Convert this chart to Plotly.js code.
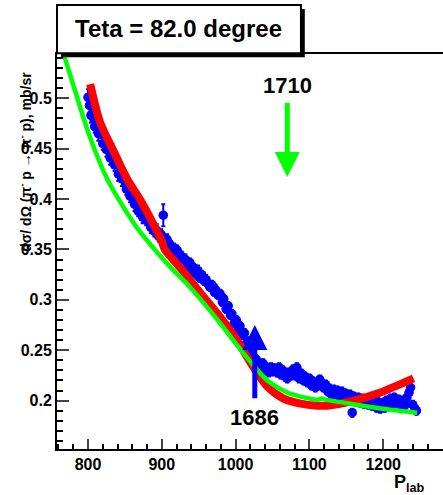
<!DOCTYPE html>
<html>
<head>
<meta charset="utf-8">
<script src="https://cdn.plot.ly/plotly-3.0.1.min.js"></script>
<style>html,body{margin:0;padding:0;background:#fff;}#chart{width:443px;height:495px;}</style>
</head>
<body>
<div id="chart"></div>
<script>
// ---- data ----
const plab = [800,802,804,807,809,812,814,817,820,822,825,828,830,833,836,838,841,844,846,849,
852,855,857,860,863,866,868,871,874,877,879,882,885,888,890,893,896,899,902,905,
907,910,913,916,918,921,924,927,929,932,935,938,940,943,946,949,951,954,957,960,
962,965,968,971,973,976,979,982,984,987,990,993,995,998,1001,1004,1006,1009,1012,1015,
1017,1020,1023,1026,1028,1031,1034,1037,1039,1042,1045,1048,1050,1053,1056,1059,1061,1064,1067,1070,
1072,1075,1078,1081,1083,1086,1089,1092,1094,1097,1100,1103,1105,1108,1111,1114,1116,1119,1122,1125,
1127,1130,1133,1136,1138,1141,1144,1147,1149,1152,1155,1158,1160,1163,1166,1169,1171,1174,1177,1180,
1182,1185,1188,1191,1193,1196,1199,1202,1204,1207,1210,1213,1215,1218,1221,1224,1226,1229,1232,1235,
1237,1240,1243,1245];
const dsig = [0.501,0.493,0.483,0.481,0.472,0.474,0.465,0.469,0.455,0.463,0.449,0.455,0.441,0.447,0.434,0.437,0.425,0.427,0.420,0.421,
0.410,0.410,0.403,0.402,0.395,0.394,0.388,0.390,0.382,0.383,0.380,0.377,0.372,0.374,0.368,0.369,0.363,0.365,0.384,0.356,
0.360,0.356,0.351,0.352,0.346,0.349,0.341,0.343,0.338,0.340,0.333,0.337,0.329,0.332,0.326,0.329,0.322,0.325,0.319,0.320,
0.316,0.313,0.315,0.308,0.310,0.305,0.306,0.298,0.301,0.291,0.294,0.285,0.286,0.277,0.280,0.271,0.274,0.265,0.267,0.257,
0.259,0.249,0.251,0.242,0.241,0.236,0.234,0.237,0.231,0.233,0.228,0.233,0.229,0.232,0.228,0.233,0.226,0.230,0.224,0.222,
0.228,0.225,0.231,0.225,0.233,0.222,0.227,0.220,0.224,0.218,0.222,0.215,0.219,0.213,0.215,0.221,0.218,0.213,0.216,0.209,
0.212,0.206,0.211,0.206,0.210,0.204,0.209,0.203,0.207,0.202,0.206,0.188,0.204,0.199,0.203,0.198,0.202,0.197,0.201,0.196,
0.200,0.195,0.199,0.193,0.199,0.192,0.197,0.193,0.200,0.196,0.202,0.197,0.203,0.196,0.201,0.195,0.200,0.195,0.203,0.208,
0.213,0.196,0.192,0.190];
const dsigErr = [0.008,0.007,0.007,0.008,0.006,0.007,0.007,0.008,0.006,0.007,0.007,0.006,0.007,0.008,0.006,0.006,0.007,0.006,0.007,0.006,
0.006,0.007,0.006,0.006,0.007,0.006,0.005,0.006,0.006,0.005,0.006,0.005,0.006,0.005,0.005,0.006,0.005,0.005,0.011,0.005,
0.005,0.005,0.005,0.004,0.005,0.005,0.004,0.005,0.004,0.005,0.004,0.004,0.005,0.004,0.004,0.005,0.004,0.004,0.004,0.005,
0.004,0.004,0.004,0.004,0.005,0.004,0.004,0.004,0.004,0.004,0.004,0.004,0.004,0.004,0.004,0.004,0.004,0.004,0.004,0.004,
0.004,0.004,0.004,0.004,0.004,0.004,0.004,0.004,0.004,0.004,0.004,0.004,0.004,0.004,0.004,0.004,0.004,0.004,0.004,0.004,
0.004,0.004,0.004,0.004,0.004,0.004,0.004,0.004,0.004,0.004,0.004,0.004,0.004,0.004,0.004,0.004,0.004,0.004,0.004,0.004,
0.004,0.004,0.004,0.004,0.004,0.004,0.004,0.004,0.004,0.004,0.004,0.004,0.004,0.004,0.004,0.004,0.004,0.004,0.004,0.004,
0.004,0.004,0.004,0.004,0.004,0.004,0.004,0.004,0.004,0.004,0.004,0.004,0.004,0.004,0.004,0.004,0.004,0.004,0.004,0.005,
0.007,0.004,0.004,0.004];

// red curve
const redP = [803,816,835,853,871,888,900,904,925,952,979,1002,1020,1043,1065,1088,1111,1124,1160,1196,1241];
const redV = [0.514,0.477,0.447,0.420,0.399,0.376,0.358,0.350,0.332,0.307,0.283,0.260,0.238,0.214,0.202,0.197,0.195,0.195,0.200,0.208,0.222];
// green curve
const greenP = [758,767,781,795,808,826,843,866,888,911,934,952,979,1002,1024,1043,1070,1088,1111,1117,1122,1155,1200,1246];
const greenV = [0.566,0.544,0.511,0.478,0.451,0.420,0.398,0.372,0.352,0.333,0.316,0.301,0.277,0.255,0.235,0.220,0.208,0.204,0.201,0.202,0.201,0.197,0.192,0.188];

// resonance markers
const resLabels = ['1710','1686'];
const resP = [1070,1026];
const resTail = [0.497,0.201];
const resTip = [0.422,0.275];
const resTextY = [0.513,0.183];
const resColors = ['#00ff00','#0000ff'];

const titleText = 'Teta = 82.0 degree';
const yTitle = 'dσ/ dΩ (π<sup>-</sup> p → π<sup>-</sup> p), mb/sr';
const xTitle = 'P<sub>lab</sub>';

const FONT = 'Liberation Sans, Arial, Helvetica, sans-serif';

const traces = [
  {x: plab, y: dsig, type: 'scatter', mode: 'markers',
   marker: {color: '#0000ff', size: 9.5, symbol: 'circle'},
   error_y: {type: 'data', array: dsigErr, visible: true, color: '#0000ff', thickness: 2, width: 2},
   hoverinfo: 'skip', showlegend: false},
  {x: redP, y: redV, type: 'scatter', mode: 'lines',
   line: {color: '#ff0000', width: 8, shape: 'spline', smoothing: 0.8}, showlegend: false},
  {x: greenP, y: greenV, type: 'scatter', mode: 'lines',
   line: {color: '#00ff00', width: 4.5, shape: 'spline', smoothing: 0.8}, showlegend: false}
];

const annotations = [];
for (let i = 0; i < resLabels.length; i++) {
  annotations.push({x: resP[i], y: resTip[i], ax: resP[i], ay: resTail[i], axref: 'x', ayref: 'y',
    xref: 'x', yref: 'y', text: '', showarrow: true, arrowhead: 2, arrowsize: 1, arrowwidth: 5,
    arrowcolor: resColors[i], standoff: 0, startstandoff: 0});
  annotations.push({x: resP[i], y: resTextY[i], xref: 'x', yref: 'y', text: resLabels[i], showarrow: false,
    font: {family: FONT, size: 22, color: '#000', weight: 'bold'}, xanchor: 'center', yanchor: 'middle'});
}
annotations.push({xref: 'paper', yref: 'paper', x: 0.316, y: 1.064, text: titleText, showarrow: false,
  font: {family: FONT, size: 24, color: '#000', weight: 'bold'}, xanchor: 'center', yanchor: 'middle'});
annotations.push({xref: 'paper', yref: 'paper', x: -0.083, y: 0.727, text: yTitle, showarrow: false, textangle: -90,
  font: {family: FONT, size: 14, color: '#000', weight: 'bold'}, xanchor: 'center', yanchor: 'middle'});
annotations.push({xref: 'paper', yref: 'paper', x: 0.868, y: -0.088, text: xTitle, showarrow: false,
  font: {family: FONT, size: 18, color: '#000', weight: 'bold'}, xanchor: 'left', yanchor: 'middle'});

const layout = {
  width: 443, height: 495,
  margin: {l: 57, r: 0, t: 54, b: 46, pad: 0},
  paper_bgcolor: '#fff', plot_bgcolor: '#fff',
  font: {family: FONT, color: '#000'},
  showlegend: false,
  xaxis: {range: [758, 1281], tick0: 800, dtick: 100, ticks: 'inside', ticklen: 10, tickwidth: 2,
    showline: true, linewidth: 2, linecolor: '#000', mirror: true, showgrid: false, zeroline: false,
    tickfont: {family: FONT, size: 16, color: '#000', weight: 'bold'},
    minor: {dtick: 20, ticks: 'inside', ticklen: 5, tickwidth: 2, tickcolor: '#000', showgrid: false}},
  yaxis: {range: [0.152, 0.544], tick0: 0, dtick: 0.05, ticks: 'inside', ticklen: 12, tickwidth: 2,
    showline: true, linewidth: 2, linecolor: '#000', mirror: false, showgrid: false, zeroline: false,
    tickfont: {family: FONT, size: 16, color: '#000', weight: 'bold'},
    minor: {dtick: 0.01, ticks: 'inside', ticklen: 6, tickwidth: 2, tickcolor: '#000', showgrid: false}},
  shapes: [
    {type: 'rect', xref: 'paper', yref: 'paper', x0: 0.0104, x1: 0.642, y0: 0.992, y1: 1.114,
     fillcolor: '#000', line: {width: 0}, layer: 'above'},
    {type: 'rect', xref: 'paper', yref: 'paper', x0: 0.0, x1: 0.632, y0: 1.002, y1: 1.124,
     fillcolor: '#fff', line: {color: '#000', width: 2}, layer: 'above'}
  ],
  annotations: annotations
};

Plotly.newPlot('chart', traces, layout, {displayModeBar: false, staticPlot: true});
</script>
</body>
</html>
